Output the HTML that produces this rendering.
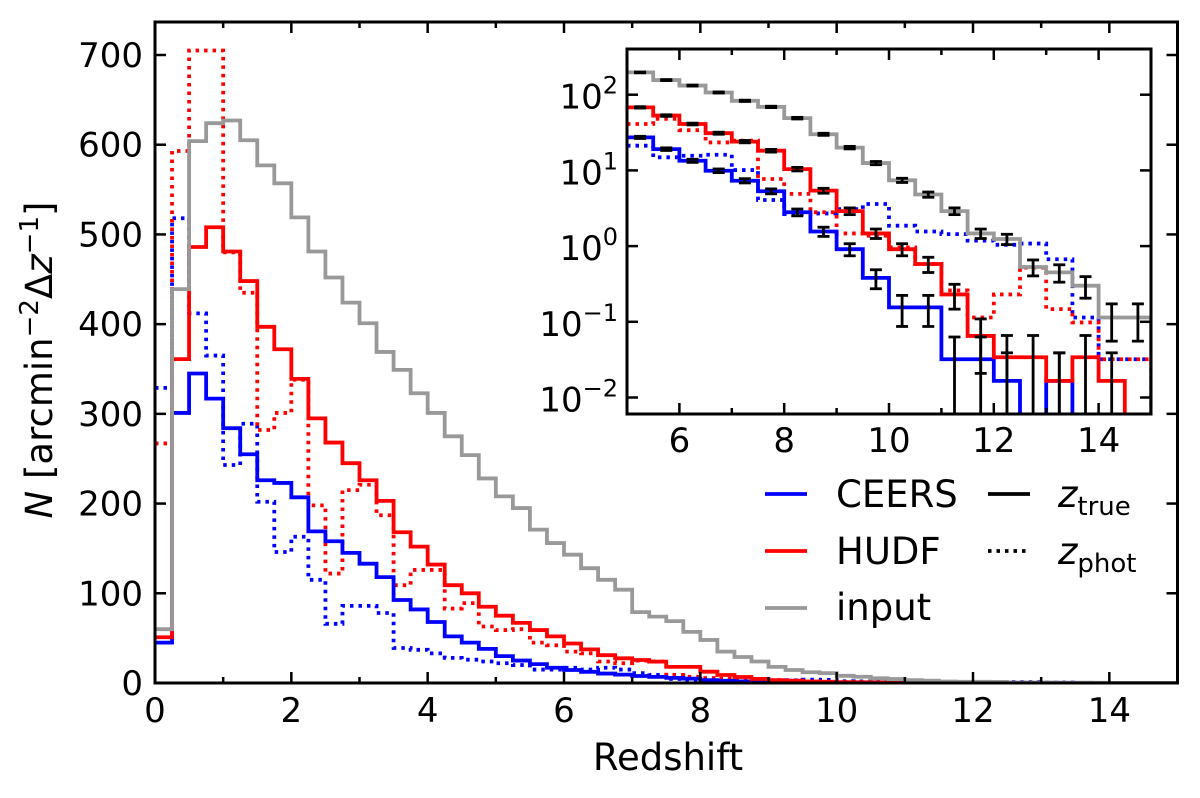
<!DOCTYPE html>
<html><head><meta charset="utf-8"><style>
html,body{margin:0;padding:0;background:#fff}
svg{display:block;font-family:"DejaVu Sans","Liberation Sans",sans-serif}
</style></head><body>
<svg id="chart" width="1200" height="798" viewBox="0 0 1200 798" xmlns="http://www.w3.org/2000/svg">
<defs>
<clipPath id="mainClip"><rect x="155" y="22" width="1022.5" height="661"/></clipPath>
<clipPath id="insetClip"><rect x="627" y="49" width="524" height="365"/></clipPath>
</defs>
<g id="main-layer"></g>
<rect x="627" y="49" width="524" height="365" fill="#fff"/>
<g id="inset-layer"></g>
<g id="axes-layer"></g>
<g font-size="37">
  <line x1="765" y1="494" x2="807" y2="494" stroke="#0000ff" stroke-width="3.8"/>
  <text x="836" y="507">CEERS</text>
  <line x1="765" y1="551" x2="807" y2="551" stroke="#ff0000" stroke-width="3.8"/>
  <text x="836" y="564">HUDF</text>
  <line x1="765" y1="608" x2="807" y2="608" stroke="#999999" stroke-width="3.8"/>
  <text x="836" y="620">input</text>
  <line x1="988" y1="494" x2="1030" y2="494" stroke="#000" stroke-width="3.8"/>
  <text x="1058" y="507"><tspan font-style="italic">z</tspan><tspan font-size="26" dy="8">true</tspan></text>
  <line x1="988" y1="551" x2="1030" y2="551" stroke="#000" stroke-width="3.8" stroke-dasharray="3.5,5"/>
  <text x="1058" y="564"><tspan font-style="italic">z</tspan><tspan font-size="26" dy="8">phot</tspan></text>
</g>
<text x="668" y="770" font-size="37" text-anchor="middle">Redshift</text>
<text transform="translate(52,360) rotate(-90)" font-size="37" text-anchor="middle"><tspan font-style="italic">N</tspan> [arcmin<tspan font-size="26" dy="-14">−2</tspan><tspan dy="14">Δ</tspan><tspan font-style="italic">z</tspan><tspan font-size="26" dy="-14">−1</tspan><tspan dy="14">]</tspan></text>
</svg>
<script>
// ---- main panel data (bins of width 0.25 from z=0) ----
const mainBinStart = 0;
const mainBinWidth = 0.25;
const mainInput = [60,439,604,624,627,605,577,557,519,481,452,424,401,369,349,323,301,275,254,228,208,195,171,156,143,128,115,104,79,74,69,57,48,35,29,24,18,14.5,12,11,8,7,5.2,4.4,3.2,2.6,1.6,1.35,1.3,1.2,0.55,0.5,0.47,0.43,0.32,0.28,0.12,0.11,0.11,0.11];
const mainHudfTrue = [51,361,486,508,481,448,397,372,339,295,268,245,226,203,168,152,132,109,100,85,75,67,59,52,44,37.5,31,27.5,25.6,23.8,18,18,12.6,8.9,6.7,4.5,3.2,2.6,1.6,1.35,1,0.85,0.6,0.55,0.25,0.2,0.07,0.06,0.034,0.034,0.034,0.034,0.017,0.017,0.034,0.034,0.017,0.017,0,0];
const mainHudfPhot = [267,593,705,705,480,435,282,301,338,198,122,215,221,187,109,126,126,83,89,63,59,60,45,42,35,33,24,22,25,24,9,7,5.5,4.5,3,2.6,1.5,1.4,1.4,1.35,1,0.9,0.6,0.55,0.28,0.24,0.12,0.11,0.24,0.22,0.55,0.5,0.15,0.14,0.1,0.1,0.032,0.032,0.032,0.032];
const mainCeersTrue = [45,301,345,317,284,255,226,223,207,169,158,145,133,118,92.5,82,68,52,45,38,30,25,21,17,14.5,12.5,10.5,9.3,7.8,6.8,5.7,4.9,3.2,2.5,1.8,1.3,1,0.8,0.45,0.32,0.16,0.15,0.16,0.15,0.032,0.032,0.032,0.032,0.017,0.017,0,0,0.017,0.017,0,0,0,0,0,0];
const mainCeersPhot = [329,518,412,365,243,289,202,146,163,115,66,86,86,78,39,37,33,28,26,24,22,20,15,15,17,15,17,15,11,9,4.5,3.6,2.7,2.6,2.7,2.6,3.2,3,3.8,3.4,1.9,1.8,1.6,1.5,1.45,1.4,1.2,1.15,1.05,1.0,1.1,1.05,0.7,0.65,0.12,0.11,0.032,0.032,0.032,0.032];
const mainXTicks = [0,2,4,6,8,10,12,14];
const mainXTickLabels = ["0","2","4","6","8","10","12","14"];
const mainYTicks = [0,100,200,300,400,500,600,700];
const mainYTickLabels = ["0","100","200","300","400","500","600","700"];

// ---- inset data (bins of width 0.5 from z=5) ----
const insetBinStart = 5;
const insetBinWidth = 0.5;
const insetInput = [197,156,132,107,83,69,49,30,20,12.5,7.4,4.8,2.9,1.47,1.24,0.53,0.45,0.30,0.114,0.114];
const insetHudfTrue = [68,53,41,31,24,18.2,10.4,5.4,2.9,1.47,0.91,0.58,0.23,0.065,0.034,0.034,0.0166,0.034,0.0166,0];
const insetHudfPhot = [41,48,34,23.4,24.7,7.7,4.9,2.8,1.47,1.37,0.96,0.58,0.26,0.114,0.23,0.52,0.147,0.098,0.032,0.032];
const insetCeersTrue = [27.3,19.1,13.4,9.9,7.3,5.3,2.8,1.56,0.91,0.38,0.155,0.155,0.032,0.032,0.0166,0,0.0166,0,0,0];
const insetCeersPhot = [21.2,14.9,15.6,16.1,10.1,4.06,2.65,2.7,3.08,3.6,1.86,1.56,1.44,1.18,1.04,1.08,0.67,0.114,0.032,0.032];
const insetXTicks = [6,8,10,12,14];
const insetXTickLabels = ["6","8","10","12","14"];
const insetYTickExps = [2,1,0,-1,-2];

const NS = "http://www.w3.org/2000/svg";
const MX0 = 155, MX1 = 1177.5, MY0 = 683, MY1 = 22;
function mx(z){ return MX0 + z * (MX1 - MX0) / 15; }
function my(v){ return MY0 - v * (683 - 55) / 700; }
const IX0 = 627, IX1 = 1151, IY0 = 414, IY1 = 49;
function ix(z){ return IX0 + (z - 5) * (IX1 - IX0) / 10; }
function iy(v){ if (v <= 0) return IY0 + 20; return 94.7 - (Math.log10(v) - 2) * 75.7; }

function el(tag, attrs, parent){
  const e = document.createElementNS(NS, tag);
  for (const k in attrs) e.setAttribute(k, attrs[k]);
  parent.appendChild(e);
  return e;
}
function stepPath(vals, start, w, fx, fy, base){
  let d = "M" + fx(start).toFixed(2) + "," + fy(vals[0]).toFixed(2);
  for (let i = 0; i < vals.length; i++){
    const y = fy(vals[i]).toFixed(2);
    if (i > 0) d += " V" + y;
    d += " H" + fx(start + (i + 1) * w).toFixed(2);
  }
  d += " V" + base;
  return d;
}

const mainLayer = document.getElementById("main-layer");
const mg = el("g", {"clip-path": "url(#mainClip)"}, mainLayer);
const mainSeries = [
  [mainCeersPhot, "#0000ff", true, "ceers-zphot-line"],
  [mainHudfPhot, "#ff0000", true, "hudf-zphot-line"],
  [mainCeersTrue, "#0000ff", false, "ceers-ztrue-line"],
  [mainHudfTrue, "#ff0000", false, "hudf-ztrue-line"],
  [mainInput, "#999999", false, "input-line"]
];
for (const s of mainSeries){
  const p = el("path", {d: stepPath(s[0], mainBinStart, mainBinWidth, mx, my, MY0), fill: "none", stroke: s[1], "stroke-width": 3.8, "stroke-dasharray": s[2] ? "3.5,5" : "none"}, mg);
  
  
}

const insetLayer = document.getElementById("inset-layer");
const ig = el("g", {"clip-path": "url(#insetClip)"}, insetLayer);
const insetSeries = [
  [insetCeersPhot, "#0000ff", true, "ceers-zphot-line"],
  [insetHudfPhot, "#ff0000", true, "hudf-zphot-line"],
  [insetInput, "#999999", false, "input-line"],
  [insetCeersTrue, "#0000ff", false, "ceers-ztrue-line"],
  [insetHudfTrue, "#ff0000", false, "hudf-ztrue-line"]
];
for (const s of insetSeries){
  const p = el("path", {d: stepPath(s[0], insetBinStart, insetBinWidth, ix, iy, IY0 + 20), fill: "none", stroke: s[1], "stroke-width": 3.8, "stroke-dasharray": s[2] ? "3.5,5" : "none"}, ig);
  
  
}
const errSeries = [insetInput, insetHudfTrue, insetCeersTrue];
for (const arr of errSeries){
  for (let i = 0; i < arr.length; i++){
    const v = arr[i];
    if (v <= 0) continue;
    const err = Math.sqrt(v * 0.03);
    const cx = ix(insetBinStart + (i + 0.5) * insetBinWidth);
    const yTop = iy(v + err);
    const yBot = (v - err) > 0 ? iy(v - err) : IY0 + 20;
    const g = el("g", {}, ig);
    
    
    el("line", {x1: cx, x2: cx, y1: yTop, y2: yBot, stroke: "#000", "stroke-width": 2.8}, g);
    el("line", {x1: cx - 6, x2: cx + 6, y1: yTop, y2: yTop, stroke: "#000", "stroke-width": 2.8}, g);
    el("line", {x1: cx - 6, x2: cx + 6, y1: yBot, y2: yBot, stroke: "#000", "stroke-width": 2.8}, g);
  }
}

const ax = document.getElementById("axes-layer");
const mframe = el("rect", {x: MX0, y: MY1, width: MX1 - MX0, height: MY0 - MY1, fill: "none", stroke: "#000", "stroke-width": 3}, ax);


for (let z = 0; z <= 15; z++){
  const L = z % 2 === 0 ? 11 : 6;
  const x = mx(z);
  el("line", {x1: x, x2: x, y1: MY0, y2: MY0 - L, stroke: "#000", "stroke-width": 2.5}, ax);
  el("line", {x1: x, x2: x, y1: MY1, y2: MY1 + L, stroke: "#000", "stroke-width": 2.5}, ax);
}
mainXTicks.forEach((z, i) => {
  const t = el("text", {x: mx(z), y: 722, "font-size": 34, "text-anchor": "middle"}, ax);
  t.textContent = mainXTickLabels[i];
  
  
});
mainYTicks.forEach((v, i) => {
  const y = my(v);
  el("line", {x1: MX0, x2: MX0 + 11, y1: y, y2: y, stroke: "#000", "stroke-width": 2.5}, ax);
  el("line", {x1: MX1, x2: MX1 - 11, y1: y, y2: y, stroke: "#000", "stroke-width": 2.5}, ax);
  const t = el("text", {x: 143, y: y + 12, "font-size": 34, "text-anchor": "end"}, ax);
  t.textContent = mainYTickLabels[i];
  
  
});
const iframe = el("rect", {x: IX0, y: IY1, width: IX1 - IX0, height: IY0 - IY1, fill: "none", stroke: "#000", "stroke-width": 3}, ax);


for (let z = 6; z <= 14; z++){
  const L = z % 2 === 0 ? 11 : 6;
  const x = ix(z);
  el("line", {x1: x, x2: x, y1: IY0, y2: IY0 - L, stroke: "#000", "stroke-width": 2.5}, ax);
  el("line", {x1: x, x2: x, y1: IY1, y2: IY1 + L, stroke: "#000", "stroke-width": 2.5}, ax);
}
insetXTicks.forEach((z, i) => {
  const t = el("text", {x: ix(z), y: 452, "font-size": 34, "text-anchor": "middle"}, ax);
  t.textContent = insetXTickLabels[i];
  
  
});
insetYTickExps.forEach((e) => {
  const y = iy(Math.pow(10, e));
  el("line", {x1: IX0, x2: IX0 + 11, y1: y, y2: y, stroke: "#000", "stroke-width": 2.5}, ax);
  el("line", {x1: IX1, x2: IX1 - 11, y1: y, y2: y, stroke: "#000", "stroke-width": 2.5}, ax);
  const t = el("text", {x: 618, y: y + 14, "font-size": 34, "text-anchor": "end"}, ax);
  
  
  const a = document.createElementNS(NS, "tspan"); a.textContent = "10"; t.appendChild(a);
  const b = document.createElementNS(NS, "tspan");
  b.setAttribute("font-size", "24"); b.setAttribute("dy", "-15");
  b.textContent = e < 0 ? "−" + Math.abs(e) : String(e);
  t.appendChild(b);
});
</script>
</body></html>
